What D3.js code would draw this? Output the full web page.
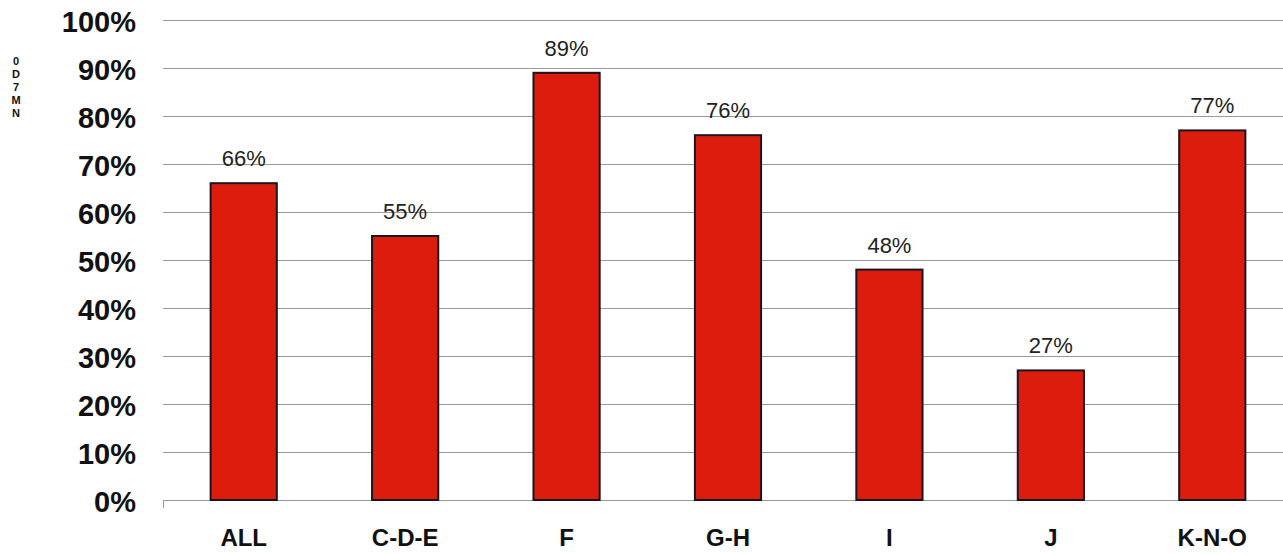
<!DOCTYPE html>
<html>
<head>
<meta charset="utf-8">
<script src="https://cdn.jsdelivr.net/npm/d3@7/dist/d3.min.js"></script>
<style>
  body { margin: 0; background: #fff; }
  svg { display: block; font-family: "Liberation Sans", Arial, sans-serif; }
</style>
</head>
<body>
<div class="chart-box"></div>
<script>
var categories = ["ALL", "C-D-E", "F", "G-H", "I", "J", "K-N-O"];
var values = [66, 55, 89, 76, 48, 27, 77];
var yTicks = [0, 10, 20, 30, 40, 50, 60, 70, 80, 90, 100];
var sideLetters = ["0", "D", "7", "M", "N"];

var width = 1283, height = 555;

var svg = d3.select(".chart-box").append("svg")
    .attr("width", width)
    .attr("height", height);

var x = d3.scaleBand()
    .domain(categories)
    .range([163, 1293])
    .paddingInner(0.59)
    .paddingOuter(0.295);

var y = d3.scaleLinear()
    .domain([0, 100])
    .range([500, 20]);

// gridlines
svg.append("g")
    .selectAll("line")
    .data(yTicks)
  .enter().append("line")
    .attr("x1", 163)
    .attr("x2", width)
    .attr("y1", function(d) { return y(d) + 0.5; })
    .attr("y2", function(d) { return y(d) + 0.5; })
    .attr("stroke", "#9a9a9a")
    .attr("stroke-width", 1);

// little tick at the axis origin
svg.append("line")
    .attr("x1", 163.5).attr("x2", 163.5)
    .attr("y1", y(0)).attr("y2", y(0) + 8)
    .attr("stroke", "#9a9a9a");

// y labels
svg.append("g")
    .selectAll("text")
    .data(yTicks)
  .enter().append("text")
    .attr("x", 136)
    .attr("y", function(d) { return y(d) + 2; })
    .attr("text-anchor", "end")
    .attr("dominant-baseline", "central")
    .attr("font-size", 29)
    .attr("font-weight", "bold")
    .attr("fill", "#111")
    .text(function(d) { return d + "%"; });

// bars
svg.selectAll(".bar")
    .data(values)
  .enter().append("rect")
    .attr("class", "bar")
    .attr("x", function(d, i) { return x(categories[i]); })
    .attr("width", x.bandwidth())
    .attr("y", function(d) { return y(d); })
    .attr("height", function(d) { return y(0) - y(d); })
    .attr("fill", "#dc1d0e")
    .attr("stroke", "#1c1420")
    .attr("stroke-width", 2);

// value labels
svg.selectAll(".val")
    .data(values)
  .enter().append("text")
    .attr("class", "val")
    .attr("x", function(d, i) { return x(categories[i]) + x.bandwidth() / 2; })
    .attr("y", function(d) { return y(d) - 17; })
    .attr("text-anchor", "middle")
    .attr("font-size", 22)
    .attr("fill", "#222")
    .text(function(d) { return d + "%"; });

// x labels
svg.append("g")
    .selectAll("text")
    .data(categories)
  .enter().append("text")
    .attr("x", function(d) { return x(d) + x.bandwidth() / 2; })
    .attr("y", 546)
    .attr("text-anchor", "middle")
    .attr("font-size", 24)
    .attr("font-weight", "bold")
    .attr("fill", "#111")
    .text(function(d) { return d; });

// small stacked letters at the left edge
svg.append("g")
    .selectAll("text")
    .data(sideLetters)
  .enter().append("text")
    .attr("x", 16)
    .attr("y", function(d, i) { return 65 + i * 13; })
    .attr("text-anchor", "middle")
    .attr("font-size", 11)
    .attr("font-weight", "bold")
    .attr("fill", "#111")
    .text(function(d) { return d; });
</script>
</body>
</html>
